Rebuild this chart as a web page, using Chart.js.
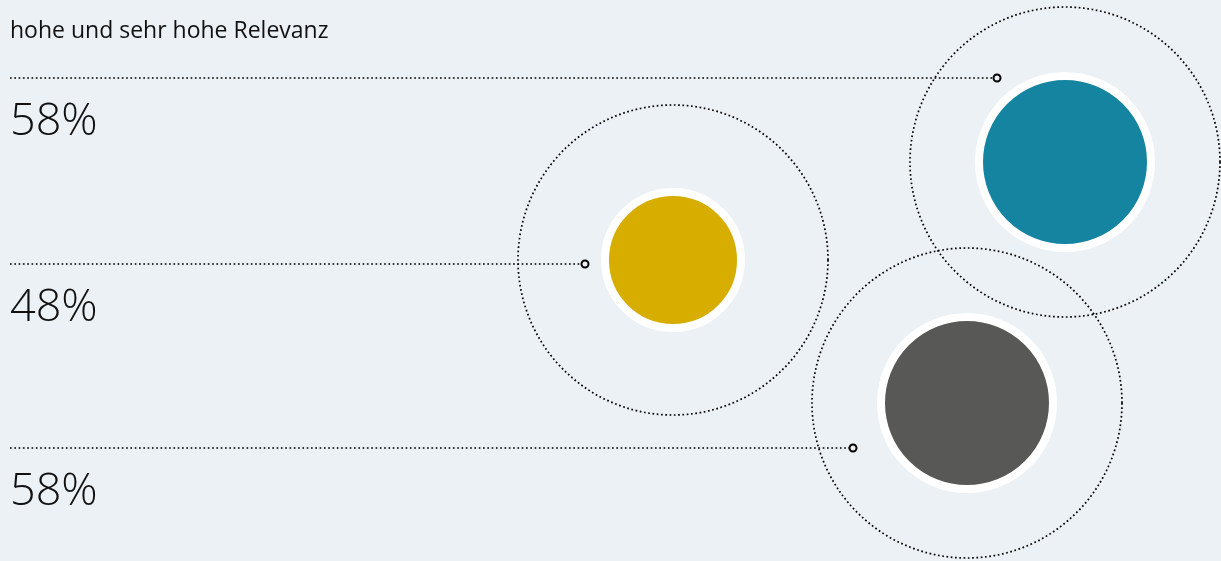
<!DOCTYPE html>
<html lang="de">
<head>
<meta charset="utf-8">
<title>hohe und sehr hohe Relevanz</title>
<script src="https://cdn.jsdelivr.net/npm/chart.js@4.4.1/dist/chart.umd.min.js"></script>
<style>
    html, body { margin: 0; padding: 0; background: #ecf1f5; }
    #wrap { position: relative; width: 1221px; height: 561px; }
</style>
</head>
<body>
<div id="wrap"><canvas id="relevanzChart"></canvas></div>
<script>
// Daten
const chartTitle = "hohe und sehr hohe Relevanz";
const rowLabels = ["58%", "48%", "58%"];
const rowValues = [58, 48, 58];
const rowY = [78, 264, 448];          // Höhe der Leitlinien
const lineStartX = 10;
const lineEndX = [997, 585, 853];     // Ende der Leitlinie (kleiner Kreis)
const bubbleX = [1065, 673, 967];
const bubbleY = [162, 260, 403];
const bubbleR = [86, 68, 86];
const ringR = 155;

const BG = "#ecf1f5";
const bubbleColors = ["#1484a0", "#d7ad00", "#585856"];
const DOTS = [1.7, 2.6];

// Leitlinien als Line-Datasets
const lineSets = rowY.map((y, i) => ({
    type: "line",
    order: 0,
    data: [{ x: lineStartX, y: y }, { x: lineEndX[i], y: y }],
    borderColor: "#000000",
    borderWidth: 1.7,
    borderDash: DOTS,
    pointRadius: [0, 3.5],
    pointBorderWidth: 2,
    pointBorderColor: "#000000",
    pointBackgroundColor: BG,
    clip: false
}));

const bubbleSet = {
    type: "bubble",
    order: 1,
    data: rowValues.map((v, i) => ({ x: bubbleX[i], y: bubbleY[i], r: bubbleR[i], v: v })),
    backgroundColor: bubbleColors,
    borderColor: "#ffffff",
    borderWidth: 8,
    hoverRadius: 0,
    clip: false
};

const ringSet = {
    type: "bubble",
    order: 2,
    data: rowValues.map((v, i) => ({ x: bubbleX[i], y: bubbleY[i], r: ringR })),
    backgroundColor: "rgba(0,0,0,0)",
    borderColor: "#000000",
    borderWidth: 1.7,
    hoverRadius: 0,
    clip: false
};

// gepunktete Kreise
const dottedRings = {
    id: "dottedRings",
    beforeDatasetDraw(chart, args) {
        if (chart.data.datasets[args.index] === ringSet) {
            chart.ctx.save();
            chart.ctx.setLineDash(DOTS);
        }
    },
    afterDatasetDraw(chart, args) {
        if (chart.data.datasets[args.index] === ringSet) {
            chart.ctx.restore();
        }
    }
};

// Texte
const textLabels = {
    id: "textLabels",
    afterDatasetsDraw(chart) {
        const { ctx, scales: { x, y } } = chart;
        ctx.save();
        ctx.fillStyle = "#111111";
        ctx.textAlign = "left";
        ctx.textBaseline = "alphabetic";
        ctx.font = "400 23px 'Open Sans'";
        ctx.fillText(chartTitle, x.getPixelForValue(lineStartX), 38);
        ctx.font = "300 45px 'Open Sans'";
        rowLabels.forEach((lbl, i) => {
            ctx.fillText(lbl, x.getPixelForValue(lineStartX), y.getPixelForValue(rowY[i]) + 57);
        });
        ctx.restore();
    }
};

new Chart(document.getElementById("relevanzChart"), {
    type: "bubble",
    data: { datasets: [...lineSets, bubbleSet, ringSet] },
    options: {
        responsive: true,
        maintainAspectRatio: false,
        animation: false,
        events: [],
        layout: { padding: 0, autoPadding: false },
        plugins: { legend: { display: false }, tooltip: { enabled: false }, title: { display: false } },
        scales: {
            x: { type: "linear", min: 0, max: 1221, display: false },
            y: { type: "linear", min: 0, max: 561, reverse: true, display: false }
        }
    },
    plugins: [dottedRings, textLabels]
});
</script>
</body>
</html>
